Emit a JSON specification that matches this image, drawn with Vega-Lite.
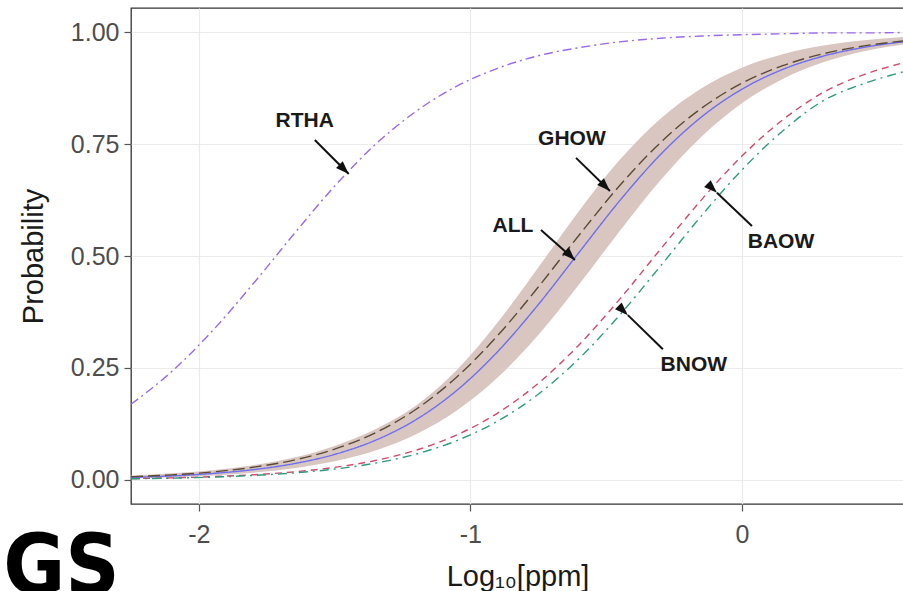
{
  "$schema": "https://vega.github.io/schema/vega-lite/v6.json",
  "width": 773,
  "height": 496,
  "autosize": "none",
  "padding": {"left": 131, "top": 8, "right": 0, "bottom": 87},
  "background": "white",
  "title": {"text": "GS", "orient": "bottom", "anchor": "start", "frame": "bounds", "font": "DejaVu Sans Condensed, Roboto Condensed, Liberation Sans Narrow, Liberation Sans, sans-serif", "fontSize": 84, "fontWeight": "bold", "color": "black", "dx": -16, "dy": -63, "offset": 0},
  "config": {
    "view": {"stroke": "#333333", "strokeWidth": 1.3},
    "axis": {"grid": true, "gridColor": "#ebebeb", "gridWidth": 1.2, "domain": false, "tickColor": "#555555", "tickSize": 7, "tickWidth": 1.2, "labelFont": "Liberation Sans", "labelFontSize": 25, "labelColor": "#4d4d4d", "titleFont": "Liberation Sans", "titleFontSize": 29, "titleFontWeight": "normal", "titleColor": "#1a1a1a"}
  },
  "datasets": {
    "curves": [
      {"x": -2.25, "p": 0.169, "s": "RTHA"}, {"x": -2.1, "p": 0.242, "s": "RTHA"}, {"x": -1.95, "p": 0.333, "s": "RTHA"}, {"x": -1.8, "p": 0.438, "s": "RTHA"}, {"x": -1.65, "p": 0.549, "s": "RTHA"}, {"x": -1.5, "p": 0.656, "s": "RTHA"}, {"x": -1.35, "p": 0.749, "s": "RTHA"}, {"x": -1.2, "p": 0.823, "s": "RTHA"}, {"x": -1.05, "p": 0.879, "s": "RTHA"}, {"x": -0.9, "p": 0.919, "s": "RTHA"}, {"x": -0.75, "p": 0.947, "s": "RTHA"}, {"x": -0.6, "p": 0.965, "s": "RTHA"}, {"x": -0.45, "p": 0.978, "s": "RTHA"}, {"x": -0.3, "p": 0.986, "s": "RTHA"}, {"x": -0.15, "p": 0.991, "s": "RTHA"}, {"x": 0, "p": 0.994, "s": "RTHA"}, {"x": 0.15, "p": 0.996, "s": "RTHA"}, {"x": 0.3, "p": 0.998, "s": "RTHA"}, {"x": 0.45, "p": 0.998, "s": "RTHA"}, {"x": 0.6, "p": 0.999, "s": "RTHA"},
      {"x": -2.25, "p": 0.0057, "s": "ALL"}, {"x": -2.1, "p": 0.0091, "s": "ALL"}, {"x": -1.95, "p": 0.0145, "s": "ALL"}, {"x": -1.8, "p": 0.023, "s": "ALL"}, {"x": -1.65, "p": 0.0364, "s": "ALL"}, {"x": -1.5, "p": 0.0571, "s": "ALL"}, {"x": -1.35, "p": 0.0886, "s": "ALL"}, {"x": -1.2, "p": 0.1348, "s": "ALL"}, {"x": -1.05, "p": 0.2, "s": "ALL"}, {"x": -0.9, "p": 0.2863, "s": "ALL"}, {"x": -0.75, "p": 0.3915, "s": "ALL"}, {"x": -0.6, "p": 0.5079, "s": "ALL"}, {"x": -0.45, "p": 0.6234, "s": "ALL"}, {"x": -0.3, "p": 0.7264, "s": "ALL"}, {"x": -0.15, "p": 0.8098, "s": "ALL"}, {"x": 0, "p": 0.8723, "s": "ALL"}, {"x": 0.15, "p": 0.9164, "s": "ALL"}, {"x": 0.3, "p": 0.9462, "s": "ALL"}, {"x": 0.45, "p": 0.9658, "s": "ALL"}, {"x": 0.6, "p": 0.9784, "s": "ALL"},
      {"x": -2.25, "p": 0.0072, "s": "GHOW"}, {"x": -2.1, "p": 0.0114, "s": "GHOW"}, {"x": -1.95, "p": 0.018, "s": "GHOW"}, {"x": -1.8, "p": 0.0284, "s": "GHOW"}, {"x": -1.65, "p": 0.0444, "s": "GHOW"}, {"x": -1.5, "p": 0.0689, "s": "GHOW"}, {"x": -1.35, "p": 0.1054, "s": "GHOW"}, {"x": -1.2, "p": 0.1579, "s": "GHOW"}, {"x": -1.05, "p": 0.2299, "s": "GHOW"}, {"x": -0.9, "p": 0.3221, "s": "GHOW"}, {"x": -0.75, "p": 0.4307, "s": "GHOW"}, {"x": -0.6, "p": 0.5464, "s": "GHOW"}, {"x": -0.45, "p": 0.6572, "s": "GHOW"}, {"x": -0.3, "p": 0.7532, "s": "GHOW"}, {"x": -0.15, "p": 0.8293, "s": "GHOW"}, {"x": 0, "p": 0.8856, "s": "GHOW"}, {"x": 0.15, "p": 0.9249, "s": "GHOW"}, {"x": 0.3, "p": 0.9515, "s": "GHOW"}, {"x": 0.45, "p": 0.969, "s": "GHOW"}, {"x": 0.6, "p": 0.9803, "s": "GHOW"},
      {"x": -2.25, "p": 0.0031, "s": "BAOW"}, {"x": -2.1, "p": 0.0048, "s": "BAOW"}, {"x": -1.95, "p": 0.0075, "s": "BAOW"}, {"x": -1.8, "p": 0.0117, "s": "BAOW"}, {"x": -1.65, "p": 0.0182, "s": "BAOW"}, {"x": -1.5, "p": 0.0282, "s": "BAOW"}, {"x": -1.35, "p": 0.0435, "s": "BAOW"}, {"x": -1.2, "p": 0.0666, "s": "BAOW"}, {"x": -1.05, "p": 0.1007, "s": "BAOW"}, {"x": -0.9, "p": 0.1493, "s": "BAOW"}, {"x": -0.75, "p": 0.2159, "s": "BAOW"}, {"x": -0.6, "p": 0.3015, "s": "BAOW"}, {"x": -0.45, "p": 0.4037, "s": "BAOW"}, {"x": -0.3, "p": 0.515, "s": "BAOW"}, {"x": -0.15, "p": 0.6248, "s": "BAOW"}, {"x": 0, "p": 0.7231, "s": "BAOW"}, {"x": 0.15, "p": 0.8038, "s": "BAOW"}, {"x": 0.3, "p": 0.8653, "s": "BAOW"}, {"x": 0.45, "p": 0.905, "s": "BAOW"}, {"x": 0.6, "p": 0.932, "s": "BAOW"},
      {"x": -2.25, "p": 0.0026, "s": "BNOW"}, {"x": -2.1, "p": 0.0041, "s": "BNOW"}, {"x": -1.95, "p": 0.0064, "s": "BNOW"}, {"x": -1.8, "p": 0.0101, "s": "BNOW"}, {"x": -1.65, "p": 0.0157, "s": "BNOW"}, {"x": -1.5, "p": 0.0244, "s": "BNOW"}, {"x": -1.35, "p": 0.0377, "s": "BNOW"}, {"x": -1.2, "p": 0.0579, "s": "BNOW"}, {"x": -1.05, "p": 0.0879, "s": "BNOW"}, {"x": -0.9, "p": 0.1313, "s": "BNOW"}, {"x": -0.75, "p": 0.1915, "s": "BNOW"}, {"x": -0.6, "p": 0.2709, "s": "BNOW"}, {"x": -0.45, "p": 0.3682, "s": "BNOW"}, {"x": -0.3, "p": 0.4775, "s": "BNOW"}, {"x": -0.15, "p": 0.589, "s": "BNOW"}, {"x": 0, "p": 0.6921, "s": "BNOW"}, {"x": 0.15, "p": 0.779, "s": "BNOW"}, {"x": 0.3, "p": 0.8468, "s": "BNOW"}, {"x": 0.45, "p": 0.885, "s": "BNOW"}, {"x": 0.6, "p": 0.912, "s": "BNOW"}
    ],
    "band": [
      {"x": -2.25, "lo": 0.0039, "hi": 0.01}, {"x": -2.1, "lo": 0.0063, "hi": 0.015}, {"x": -1.95, "lo": 0.0102, "hi": 0.022}, {"x": -1.8, "lo": 0.0164, "hi": 0.033}, {"x": -1.65, "lo": 0.0262, "hi": 0.05}, {"x": -1.5, "lo": 0.0417, "hi": 0.076}, {"x": -1.35, "lo": 0.0656, "hi": 0.113}, {"x": -1.2, "lo": 0.1019, "hi": 0.166}, {"x": -1.05, "lo": 0.155, "hi": 0.2456}, {"x": -0.9, "lo": 0.2286, "hi": 0.3516}, {"x": -0.75, "lo": 0.3238, "hi": 0.4745}, {"x": -0.6, "lo": 0.4363, "hi": 0.6006}, {"x": -0.45, "lo": 0.5558, "hi": 0.7146}, {"x": -0.3, "lo": 0.6691, "hi": 0.8066}, {"x": -0.15, "lo": 0.7657, "hi": 0.8741}, {"x": 0, "lo": 0.8408, "hi": 0.9204}, {"x": 0.15, "lo": 0.8951, "hi": 0.9506}, {"x": 0.3, "lo": 0.9324, "hi": 0.9698}, {"x": 0.45, "lo": 0.9571, "hi": 0.9816}, {"x": 0.6, "lo": 0.973, "hi": 0.9889}
    ],
    "labels": [
      {"label": "RTHA", "tx": -1.61, "ty": 0.801, "ax1": -1.573, "ay1": 0.759, "ax2": -1.448, "ay2": 0.683},
      {"label": "GHOW", "tx": -0.626, "ty": 0.761, "ax1": -0.611, "ay1": 0.719, "ax2": -0.486, "ay2": 0.645},
      {"label": "ALL", "tx": -0.843, "ty": 0.567, "ax1": -0.74, "ay1": 0.558, "ax2": -0.615, "ay2": 0.491},
      {"label": "BAOW", "tx": 0.144, "ty": 0.531, "ax1": 0.037, "ay1": 0.567, "ax2": -0.092, "ay2": 0.641},
      {"label": "BNOW", "tx": -0.177, "ty": 0.257, "ax1": -0.291, "ay1": 0.292, "ax2": -0.42, "ay2": 0.368}
    ]
  },
  "layer": [
    {
      "data": {"name": "band"},
      "mark": {"type": "area", "color": "#d9c6c0", "interpolate": "monotone", "clip": true},
      "encoding": {
        "x": {"field": "x", "type": "quantitative", "scale": {"domain": [-2.25, 0.597], "nice": false, "zero": false}, "axis": {"values": [-2, -1, 0], "labelExpr": "'' + datum.value", "labelPadding": 11, "title": "Log₁₀[ppm]", "titlePadding": 15}},
        "y": {"field": "hi", "type": "quantitative", "scale": {"domain": [-0.0536, 1.0536], "nice": false, "zero": false}, "axis": {"values": [0, 0.25, 0.5, 0.75, 1], "format": ".2f", "labelPadding": 5, "title": "Probability", "titlePadding": 22}},
        "y2": {"field": "lo"}
      }
    },
    {
      "data": {"name": "curves"},
      "mark": {"type": "line", "interpolate": "monotone", "strokeWidth": 1.4, "clip": true},
      "encoding": {
        "x": {"field": "x", "type": "quantitative"},
        "y": {"field": "p", "type": "quantitative"},
        "color": {"field": "s", "type": "nominal", "legend": null, "scale": {"domain": ["RTHA", "ALL", "GHOW", "BAOW", "BNOW"], "range": ["#9b6ae8", "#6e6ef0", "#5a4a35", "#d04a6a", "#2e9a7e"]}},
        "strokeDash": {"field": "s", "type": "nominal", "legend": null, "scale": {"domain": ["RTHA", "ALL", "GHOW", "BAOW", "BNOW"], "range": [[9, 4, 2, 4], [1, 0], [12, 5], [7, 5], [9, 5, 2, 5]]}}
      }
    },
    {
      "data": {"name": "labels"},
      "mark": {"type": "rule", "color": "#111111", "strokeWidth": 2},
      "encoding": {
        "x": {"field": "ax1", "type": "quantitative"},
        "y": {"field": "ay1", "type": "quantitative"},
        "x2": {"field": "ax2"},
        "y2": {"field": "ay2"}
      }
    },
    {
      "data": {"name": "labels"},
      "mark": {"type": "point", "shape": "M0,0L0.36,1L-0.36,1Z", "filled": true, "color": "#111111", "opacity": 1, "size": 700},
      "encoding": {
        "x": {"field": "ax2", "type": "quantitative"},
        "y": {"field": "ay2", "type": "quantitative"},
        "angle": {"field": "label", "type": "nominal", "legend": null, "scale": {"domain": ["RTHA", "GHOW", "ALL", "BAOW", "BNOW"], "range": [135, 134, 131, 313, 314]}}
      }
    },
    {
      "data": {"name": "labels"},
      "mark": {"type": "text", "font": "Liberation Sans", "fontSize": 21, "fontWeight": "bold", "color": "#1a1a1a", "align": "center", "baseline": "middle"},
      "encoding": {
        "x": {"field": "tx", "type": "quantitative"},
        "y": {"field": "ty", "type": "quantitative"},
        "text": {"field": "label"}
      }
    }
  ]
}
